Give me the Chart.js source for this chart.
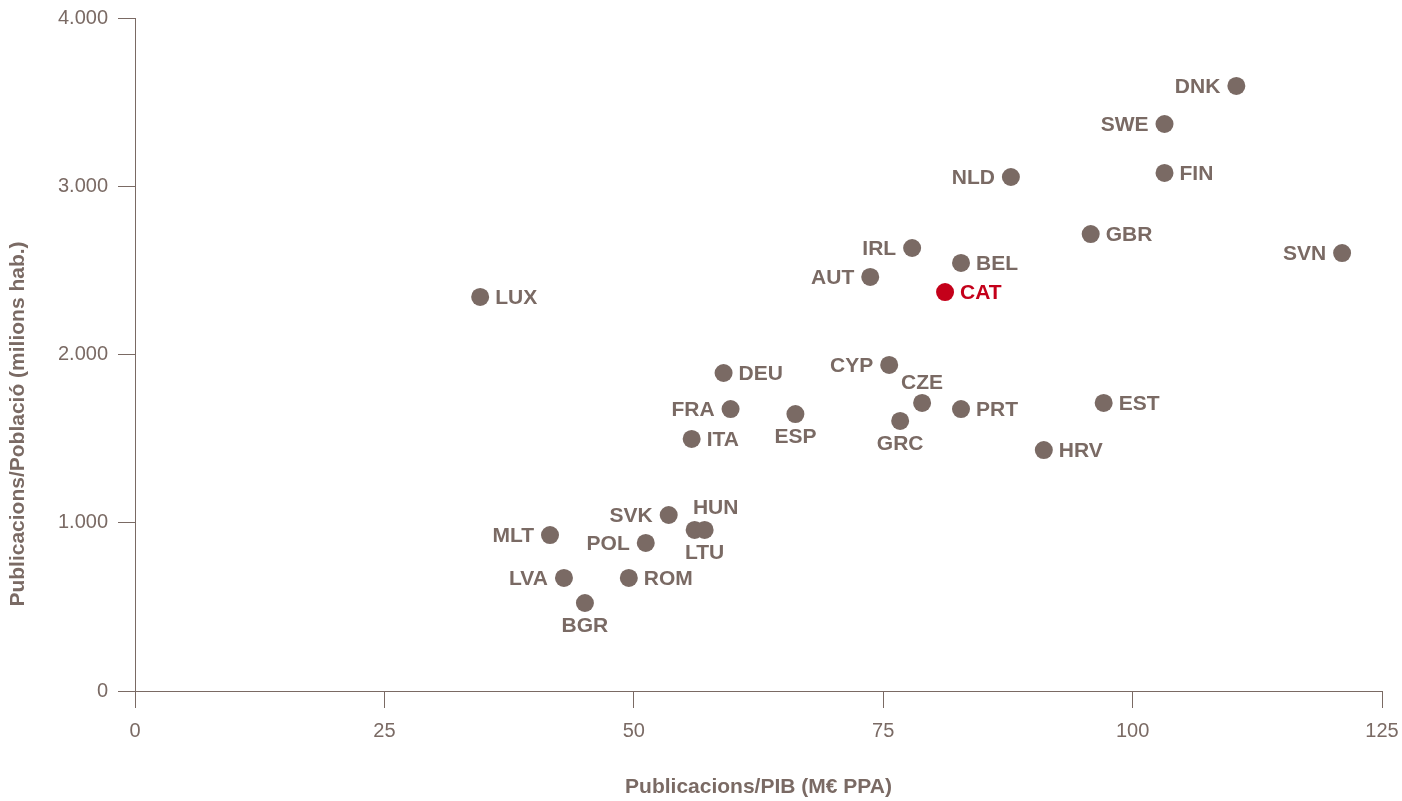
<!doctype html>
<html lang="ca">
<head>
<meta charset="utf-8">
<title>Publicacions</title>
<script src="https://cdn.jsdelivr.net/npm/chart.js@4.4.0/dist/chart.umd.min.js"></script>
<style>
  body { margin: 0; background: #fff; }
  #wrap { width: 1402px; height: 801px; }
</style>
</head>
<body>
<div id="wrap"><canvas id="chart" width="1402" height="801"></canvas></div>
<script>
// country codes, publications per GDP (x) and per population (y)
var countries = ['DNK','SWE','NLD','FIN','GBR','SVN','IRL','BEL','AUT','CAT','LUX','CYP','DEU','CZE','FRA','PRT','EST','ESP','GRC','ITA','HRV','SVK','HUN','LTU','MLT','POL','LVA','ROM','BGR'];
var pibValues = [110.4,103.2,87.8,103.2,95.8,121.0,77.9,82.8,73.7,81.2,34.6,75.6,59.0,78.9,59.7,82.8,97.1,66.2,76.7,55.8,91.1,53.5,56.1,57.1,41.6,51.2,43.0,49.5,45.1];
var popValues = [3596,3370,3055,3079,2716,2603,2633,2544,2461,2371,2342,1938,1890,1712,1676,1676,1712,1646,1605,1498,1432,1046,957,957,927,880,672,672,523];
// where each label sits relative to its point: l, r, t, b, tr
var labelSide = ['l','l','l','r','r','l','l','r','l','r','r','l','r','t','l','r','r','b','b','r','r','l','tr','b','l','l','l','r','b'];
var xTicks = [0,25,50,75,100,125];
var yTicks = [0,1000,2000,3000,4000];
var xTitle = 'Publicacions/PIB (M€ PPA)';
var yTitle = 'Publicacions/Població (milions hab.)';

var grey = '#7a6a64';
var red = '#c4001a';
var fam = '"Liberation Sans", Arial, sans-serif';

var pts = [];
var cols = [];
for (var i = 0; i < countries.length; i++) {
  pts.push({x: pibValues[i], y: popValues[i]});
  cols.push(countries[i] == 'CAT' ? red : grey);
}

function fmt(v) {
  return String(v).replace(/\B(?=(\d{3})+(?!\d))/g, '.');
}

var labelPlugin = {
  id: 'pointLabels',
  afterDatasetsDraw: function(chart) {
    var ctx = chart.ctx;
    var meta = chart.getDatasetMeta(0);
    ctx.save();
    ctx.font = 'bold 21px ' + fam;
    ctx.textBaseline = 'middle';
    meta.data.forEach(function(el, i) {
      var side = labelSide[i];
      var x = el.x, y = el.y;
      ctx.fillStyle = cols[i];
      if (side == 'l') { ctx.textAlign = 'right'; ctx.fillText(countries[i], x - 16, y + 1); }
      else if (side == 'r') { ctx.textAlign = 'left'; ctx.fillText(countries[i], x + 15, y + 1); }
      else if (side == 't') { ctx.textAlign = 'center'; ctx.fillText(countries[i], x, y - 20); }
      else if (side == 'b') { ctx.textAlign = 'center'; ctx.fillText(countries[i], x, y + 23); }
      else if (side == 'tr') { ctx.textAlign = 'center'; ctx.fillText(countries[i], x + 21, y - 22); }
    });
    // y axis title, placed a bit below the middle as in the original
    ctx.fillStyle = grey;
    ctx.textAlign = 'center';
    ctx.translate(18, 424);
    ctx.rotate(-Math.PI / 2);
    ctx.fillText(yTitle, 0, 0);
    ctx.restore();
  }
};

var ctx = document.getElementById('chart').getContext('2d');
new Chart(ctx, {
  type: 'scatter',
  data: {
    datasets: [{
      data: pts,
      pointRadius: 9,
      pointHoverRadius: 9,
      pointBackgroundColor: cols,
      pointBorderColor: cols,
      pointBorderWidth: 0
    }]
  },
  options: {
    responsive: false,
    animation: false,
    layout: { padding: { top: 18, right: 20, left: 0, bottom: 0 } },
    plugins: { legend: { display: false }, tooltip: { enabled: false } },
    scales: {
      x: {
        type: 'linear',
        min: 0, max: 125,
        afterBuildTicks: function(s) { s.ticks = xTicks.map(function(v) { return {value: v}; }); },
        afterFit: function(s) { s.height = 110; s.paddingRight = 0; },
        border: { color: grey, width: 1 },
        grid: { drawOnChartArea: false, tickLength: 17, color: grey },
        ticks: { color: grey, padding: 11, maxRotation: 0, font: { family: fam, size: 20 } },
        title: {
          display: true, text: xTitle, color: grey,
          font: { family: fam, size: 21, weight: 'bold' },
          padding: { top: 0, bottom: 1 }
        }
      },
      y: {
        type: 'linear',
        min: 0, max: 4000,
        afterBuildTicks: function(s) { s.ticks = yTicks.map(function(v) { return {value: v}; }); },
        afterFit: function(s) { s.width = 135; s.paddingTop = 0; },
        border: { color: grey, width: 1 },
        grid: { drawOnChartArea: false, tickLength: 17, color: grey },
        ticks: {
          color: grey, padding: 10,
          font: { family: fam, size: 20 },
          callback: function(v) { return fmt(v); }
        }
      }
    }
  },
  plugins: [labelPlugin]
});
</script>
</body>
</html>
